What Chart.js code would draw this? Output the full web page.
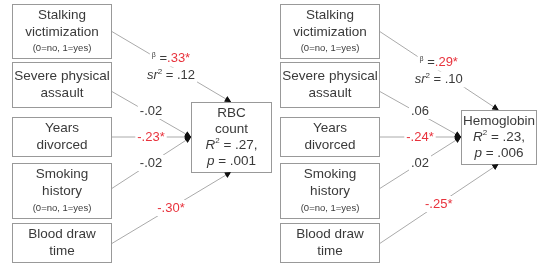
<!DOCTYPE html>
<html>
<head>
<meta charset="utf-8">
<script src="https://cdn.jsdelivr.net/npm/chart.js@4.4.0/dist/chart.umd.min.js"></script>
<style>
html,body{margin:0;padding:0;background:#fff}
#wrap{width:537px;height:264px}
</style>
</head>
<body>
<div id="wrap"><canvas id="c" width="537" height="264"></canvas></div>
<script>
// values
const predictors=[['Stalking','victimization'],['Severe physical','assault'],['Years','divorced'],['Smoking','history'],['Blood draw','time']];
const predictorNotes=['(0=no, 1=yes)','','','(0=no, 1=yes)',''];
const outcomes=[['RBC','count'],['Hemoglobin']];
const outcomeR2=[.27,.23];
const outcomeP=['.001','.006'];
const betaRBC=[.33,-.02,-.23,-.02,-.30];
const betaHgb=[.29,.06,-.24,.02,-.25];
const sigRBC=[true,false,true,false,true];
const sigHgb=[true,false,true,false,true];
const sr2Stalking=[.12,.10];

// layout, in chart units (y grows downward)
const panelLeft=[12,280];
const boxW=99;
const rowTop=[4,62,117,163,223];
const rowBot=[58,107,156,218,262];
const srcY=[31,91,137,189,244];
const outBox=[{l:191,t:102,r:271,b:172},{l:461,t:110,r:536,b:164}];

const RED='#e8323c';
const TXT='#3a3a3a';
const LINE='#aaa';
const FONT='"Liberation Sans", Arial, sans-serif';

const betas=[betaRBC,betaHgb];
const sigs=[sigRBC,sigHgb];

function fmt(v){
  return (v<0?'-':'')+Math.abs(v).toFixed(2).slice(1);
}

function target(p,i){
  const b=outBox[p];
  const cx=(b.l+b.r)/2;
  if(i===0) return {x:cx,y:b.t};
  if(i===4) return {x:cx,y:b.b};
  return {x:b.l,y:(b.t+b.b)/2};
}

const datasets=[];
for(let p=0;p<2;p++){
  for(let i=0;i<predictors.length;i++){
    const t=target(p,i);
    datasets.push({
      data:[{x:panelLeft[p]+boxW,y:srcY[i]},{x:t.x,y:t.y}],
      showLine:true,
      borderColor:LINE,
      borderWidth:1,
      pointRadius:0,
      _p:p,_i:i
    });
  }
}

function fontOf(s){
  return (s.italic?'italic ':'')+(s.size||13)+'px '+FONT;
}

// draws a line of mixed text centred on cx
function drawRich(ctx,cx,cy,segs,bg){
  let w=0;
  segs.forEach(s=>{ctx.font=fontOf(s);s.w=ctx.measureText(s.t).width;w+=s.w;});
  if(bg){
    ctx.fillStyle='#fff';
    ctx.fillRect(cx-w/2-2,cy-8,w+4,16);
  }
  let x=cx-w/2;
  ctx.textBaseline='middle';
  ctx.textAlign='left';
  segs.forEach(s=>{
    ctx.font=fontOf(s);
    ctx.fillStyle=s.color||TXT;
    ctx.fillText(s.t,x,cy+(s.dy||0));
    x+=s.w;
  });
}

function arrow(ctx,from,to){
  const a=Math.atan2(to.y-from.y,to.x-from.x);
  const L=6,H=3;
  ctx.fillStyle='#111';
  ctx.beginPath();
  ctx.moveTo(to.x,to.y);
  ctx.lineTo(to.x-L*Math.cos(a)+H*Math.sin(a),to.y-L*Math.sin(a)-H*Math.cos(a));
  ctx.lineTo(to.x-L*Math.cos(a)-H*Math.sin(a),to.y-L*Math.sin(a)+H*Math.cos(a));
  ctx.closePath();
  ctx.fill();
}

const diagram={
  id:'diagram',
  afterDatasetsDraw(chart){
    const ctx=chart.ctx;
    const xs=chart.scales.x, ys=chart.scales.y;
    const px=v=>xs.getPixelForValue(v), py=v=>ys.getPixelForValue(v);
    ctx.save();

    // arrowheads and path labels
    chart.data.datasets.forEach(ds=>{
      const a={x:px(ds.data[0].x),y:py(ds.data[0].y)};
      const b={x:px(ds.data[1].x),y:py(ds.data[1].y)};
      arrow(ctx,a,b);
      const p=ds._p,i=ds._i;
      const mx=(a.x+b.x)/2, my=(a.y+b.y)/2;
      const v=betas[p][i], sig=sigs[p][i];
      const coef={t:fmt(v)+(sig?'*':''),color:sig?RED:TXT};
      if(i===0){
        drawRich(ctx,mx,my-8,[{t:'β',size:7,dy:-3},{t:' ='},coef],true);
        drawRich(ctx,mx,my+9,[{t:'sr',italic:true},{t:'2',size:8,dy:-4},{t:' = '+fmt(sr2Stalking[p])}],true);
      }else{
        drawRich(ctx,mx,my+(i===1?-3:0),[coef],true);
      }
    });

    // predictor boxes
    ctx.strokeStyle='#999';
    ctx.lineWidth=1;
    for(let p=0;p<2;p++){
      for(let i=0;i<predictors.length;i++){
        const l=Math.round(px(panelLeft[p]))+.5, r=Math.round(px(panelLeft[p]+boxW))+.5;
        const t=Math.round(py(rowTop[i]))+.5, b=Math.round(py(rowBot[i]))+.5;
        ctx.fillStyle='#fff';
        ctx.fillRect(l,t,r-l,b-t);
        ctx.strokeRect(l,t,r-l,b-t);
        const lines=predictors[i].map(s=>({segs:[{t:s,size:13.5}],h:17}));
        if(predictorNotes[i]) lines.push({segs:[{t:predictorNotes[i],size:9.5}],h:16});
        const total=lines.reduce((s,l)=>s+l.h,0);
        let y=(t+b)/2-total/2;
        lines.forEach(ln=>{drawRich(ctx,(l+r)/2,y+ln.h/2,ln.segs);y+=ln.h;});
      }
      // outcome box
      const ob=outBox[p];
      const l=Math.round(px(ob.l))+.5, r=Math.round(px(ob.r))+.5;
      const t=Math.round(py(ob.t))+.5, b=Math.round(py(ob.b))+.5;
      ctx.fillStyle='#fff';
      ctx.fillRect(l,t,r-l,b-t);
      ctx.strokeRect(l,t,r-l,b-t);
      const lines=outcomes[p].map(s=>[{t:s,size:13.5}]);
      lines.push([{t:'R',italic:true,size:13.5},{t:'2',size:8,dy:-5},{t:' = '+fmt(outcomeR2[p])+',',size:13.5}]);
      lines.push([{t:'p',italic:true,size:13.5},{t:' = '+outcomeP[p],size:13.5}]);
      let y=(t+b)/2-lines.length*16/2;
      lines.forEach(segs=>{drawRich(ctx,(l+r)/2,y+8,segs);y+=16;});
      // re-draw the arrowheads that touch this box
      chart.data.datasets.filter(ds=>ds._p===p).forEach(ds=>{
        arrow(ctx,{x:px(ds.data[0].x),y:py(ds.data[0].y)},{x:px(ds.data[1].x),y:py(ds.data[1].y)});
      });
    }
    ctx.restore();
  }
};

new Chart(document.getElementById('c'),{
  type:'scatter',
  data:{datasets},
  options:{
    responsive:false,
    devicePixelRatio:1,
    animation:false,
    layout:{padding:0},
    plugins:{legend:{display:false},tooltip:{enabled:false}},
    scales:{
      x:{type:'linear',min:0,max:537,display:false},
      y:{type:'linear',min:0,max:264,reverse:true,display:false}
    }
  },
  plugins:[diagram]
});
</script>
</body>
</html>
